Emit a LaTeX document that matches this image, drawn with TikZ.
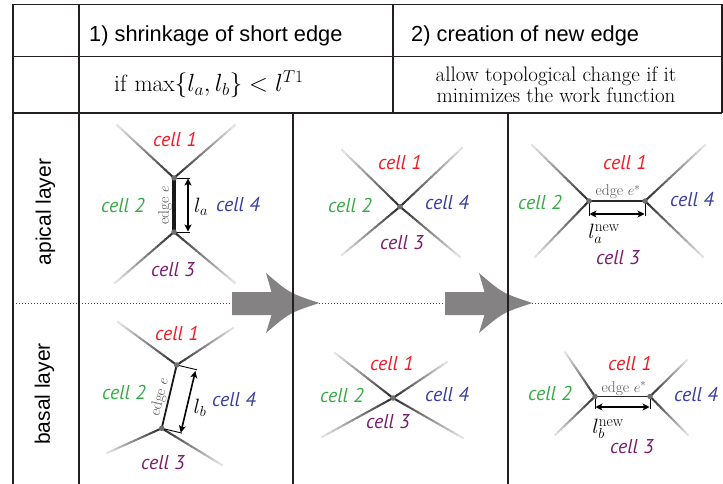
\documentclass[tikz,border=0pt]{standalone}
\usepackage{fontspec}
\newfontfamily\hdfont{Liberation Sans}
\newfontfamily\clfont{PT Sans}
\usetikzlibrary{calc,arrows.meta}
\definecolor{tblc}{HTML}{231F20}
\definecolor{cred}{HTML}{EE1C25}
\definecolor{cgreen}{HTML}{3AAA48}
\definecolor{cblue}{HTML}{3A3F9C}
\definecolor{cpurple}{HTML}{7B1E6E}
\definecolor{agray}{HTML}{858283}
\definecolor{vgray}{HTML}{6D6E70}
\definecolor{lblgray}{HTML}{555555}
\newcommand\fadeln[2]{%
  \foreach \i in {0,...,13}{%
    \pgfmathsetmacro\shd{82-5.4*\i}%
    \draw[line width=2pt,draw=black!\shd] ($(#1)!{\i/14}!(#2)$) -- ($(#1)!{(\i+1.15)/14}!(#2)$);
  }}
\tikzset{
  tbl/.style={line width=1.6pt, draw=tblc},
  dotl/.style={line width=0.9pt, draw=black!70, dash pattern=on 1.3pt off 1.7pt},
  hdr/.style={font=\hdfont\fontsize{21.8}{24}\selectfont, anchor=base west, inner sep=0},
  lay/.style={font=\hdfont\fontsize{21}{24}\selectfont, rotate=90, inner sep=0},
  rowtxt/.style={font=\fontsize{21}{21}\selectfont, inner sep=0},
  cl/.style={font=\clfont\itshape\fontsize{20}{22}\selectfont, inner sep=0},
  c1/.style={cl, text=cred},
  c2/.style={cl, text=cgreen},
  c3/.style={cl, text=cpurple},
  c4/.style={cl, text=cblue},
  vtx/.style={circle, fill=vgray, inner sep=0, minimum size=5.5pt},
  elbl/.style={font=\fontsize{15.5}{15.5}\selectfont, text=lblgray, inner sep=0},
  mlbl/.style={font=\fontsize{22}{22}\selectfont, inner sep=0},
  tick/.style={line width=0.9pt, draw=black},
  dimarr/.style={line width=1.6pt, draw=black, {Stealth[length=7pt,width=7pt,inset=1.8pt]}-{Stealth[length=7pt,width=7pt,inset=1.8pt]}},
  bigarr/.style={fill=agray, draw=none},
}
\begin{document}
\begin{tikzpicture}[x=1pt,y=-1pt]
\useasboundingbox (0,0) rectangle (723,484);
% dotted separator
\coordinate (dl) at (13,303);
\coordinate (dr) at (722,303);
\draw[dotl] (dl) -- (dr);
% big arrows
\foreach \dx in {0,213}{
\begin{scope}[xshift=\dx pt]
\fill[bigarr] (232,292) -- (271.5,292) -- (266,273) .. controls (289.6,293.2) .. (319.5,303)
  .. controls (289.6,312.8) .. (266,333) -- (271.5,315) -- (232,315) -- cycle;
\end{scope}}
% table
\draw[tbl] (13,4.5) -- (722,4.5);
\draw[tbl] (13,56.5) -- (722,56.5);
\draw[tbl] (13,113) -- (722,113);
\draw[tbl] (13,4.5) -- (13,484);
\draw[tbl] (79,4.5) -- (79,484);
\draw[tbl] (393,4.5) -- (393,113);
\draw[tbl] (722,4.5) -- (722,113);
\draw[tbl] (293,113) -- (293,484);
\draw[tbl] (508,113) -- (508,484);
% header texts
\node[hdr] (h1) at (89,41.5) {1) shrinkage of short edge};
\node[hdr] (h2) at (411,41.5) {2) creation of new edge};
\node[font=\fontsize{23.5}{24}\selectfont, inner sep=0, anchor=base west] (r1) at (114,92) {if\hspace{8pt}$\max\{l_a,l_b\}<l^{T1}$};
\node[rowtxt, align=center, anchor=base] (r2) at (556,102.5) {allow topological change if it\\minimizes the work function};
\node[lay] (la) at (45.5,212) {apical layer};
\node[lay] (lb) at (44.5,394) {basal layer};

% ---------- column 1, apical ----------
\coordinate (a1t) at (174,178);
\coordinate (a1b) at (174,232);
\coordinate (a1e1) at (117,125);
\coordinate (a1e2) at (235,125);
\coordinate (a1e3) at (115,283);
\coordinate (a1e4) at (235,283);
\fadeln{a1t}{a1e1}\fadeln{a1t}{a1e2}\fadeln{a1b}{a1e3}\fadeln{a1b}{a1e4}
\draw[line width=3.5pt, draw=black!90] (a1t) -- (a1b);
\coordinate (a1tt) at (189.5,178);
\coordinate (a1bt) at (189.5,232);
\draw[tick] (a1t) -- (a1tt);
\draw[tick] (a1b) -- (a1bt);
\coordinate (a1at) at (188,178.5);
\coordinate (a1ab) at (188,231.5);
\draw[dimarr] (a1at) -- (a1ab);
\node[vtx] (v1) at (a1t) {};
\node[vtx] (v2) at (a1b) {};
\node[elbl, rotate=90] (e1) at (165,205) {edge $e$};
\node[mlbl] (m1) at (201,207) {$l_a$};
\node[c1] at (175,140) {cell 1};
\node[c2] at (123,205) {cell 2};
\node[c4] at (238,205) {cell 4};
\node[c3] at (173,270) {cell 3};

% ---------- column 1, basal ----------
\coordinate (b1t) at (176.7,365);
\coordinate (b1b) at (161.7,428.3);
\coordinate (b1e1) at (118,322);
\coordinate (b1e2) at (233,328);
\coordinate (b1e3) at (107,453);
\coordinate (b1e4) at (222,465);
\fadeln{b1t}{b1e1}\fadeln{b1t}{b1e2}\fadeln{b1b}{b1e3}\fadeln{b1b}{b1e4}
\draw[line width=1.8pt, draw=black!90] (b1t) -- (b1b);
\coordinate (b1tt) at (197,369.8);
\coordinate (b1bt) at (182,433.1);
\draw[tick] (b1t) -- (b1tt);
\draw[tick] (b1b) -- (b1bt);
\coordinate (b1at) at (195.4,371);
\coordinate (b1ab) at (180.8,432.6);
\draw[dimarr] (b1at) -- (b1ab);
\node[vtx] (v3) at (b1t) {};
\node[vtx] (v4) at (b1b) {};
\node[elbl, rotate=76.7] (e2) at (160,397) {edge $e$};
\node[mlbl] (m2) at (200,408) {$l_b$};
\node[c1] at (177,333) {cell 1};
\node[c2] at (124,392) {cell 2};
\node[c4] at (234,400) {cell 4};
\node[c3] at (163,463) {cell 3};

% ---------- column 2, apical ----------
\coordinate (a2) at (400,206.7);
\coordinate (a2e1) at (342,150);
\coordinate (a2e2) at (462,148);
\coordinate (a2e3) at (342,255);
\coordinate (a2e4) at (460,257);
\fadeln{a2}{a2e1}\fadeln{a2}{a2e2}\fadeln{a2}{a2e3}\fadeln{a2}{a2e4}
\node[vtx] (v5) at (a2) {};
\node[c1] at (400,163) {cell 1};
\node[c2] at (350,205) {cell 2};
\node[c4] at (447,203) {cell 4};
\node[c3] at (402,243) {cell 3};

% ---------- column 2, basal ----------
\coordinate (b2) at (393,398);
\coordinate (b2e1) at (335,353);
\coordinate (b2e2) at (447,362);
\coordinate (b2e3) at (322,437);
\coordinate (b2e4) at (463,438);
\fadeln{b2}{b2e1}\fadeln{b2}{b2e2}\fadeln{b2}{b2e3}\fadeln{b2}{b2e4}
\node[vtx] (v6) at (b2) {};
\node[c1] at (392,363) {cell 1};
\node[c2] at (342,395) {cell 2};
\node[c4] at (447,395) {cell 4};
\node[c3] at (388,422) {cell 3};

% ---------- column 3, apical ----------
\coordinate (a3l) at (589,201);
\coordinate (a3r) at (645,201);
\coordinate (a3e1) at (532,145);
\coordinate (a3e2) at (535,257);
\coordinate (a3e3) at (705,145);
\coordinate (a3e4) at (703,257);
\fadeln{a3l}{a3e1}\fadeln{a3l}{a3e2}\fadeln{a3r}{a3e3}\fadeln{a3r}{a3e4}
\draw[line width=1.8pt, draw=black!85] (a3l) -- (a3r);
\coordinate (a3lt) at (589,215.5);
\coordinate (a3rt) at (645,215.5);
\draw[tick] (a3l) -- (a3lt);
\draw[tick] (a3r) -- (a3rt);
\coordinate (a3al) at (589.5,214);
\coordinate (a3ar) at (644.5,214);
\draw[dimarr] (a3al) -- (a3ar);
\node[vtx] (v7) at (a3l) {};
\node[vtx] (v8) at (a3r) {};
\node[elbl, anchor=base] (e3) at (618,196) {edge $e^{*}$};
\node[mlbl] (m3) at (604,234) {$l_a^{\mathrm{new}}$};
\node[c1] at (625,163) {cell 1};
\node[c2] at (540,202) {cell 2};
\node[c4] at (692,200) {cell 4};
\node[c3] at (618,258) {cell 3};

% ---------- column 3, basal ----------
\coordinate (b3l) at (595,396.5);
\coordinate (b3r) at (650,396.5);
\coordinate (b3e1) at (565,352);
\coordinate (b3e2) at (555,435);
\coordinate (b3e3) at (687,360);
\coordinate (b3e4) at (688,435);
\fadeln{b3l}{b3e1}\fadeln{b3l}{b3e2}\fadeln{b3r}{b3e3}\fadeln{b3r}{b3e4}
\draw[line width=1.8pt, draw=black!85] (b3l) -- (b3r);
\coordinate (b3lt) at (595,408.5);
\coordinate (b3rt) at (650,408.5);
\draw[tick] (b3l) -- (b3lt);
\draw[tick] (b3r) -- (b3rt);
\coordinate (b3al) at (595.5,407);
\coordinate (b3ar) at (649.5,407);
\draw[dimarr] (b3al) -- (b3ar);
\node[vtx] (v9) at (b3l) {};
\node[vtx] (v10) at (b3r) {};
\node[elbl, anchor=base] (e4) at (624,392) {edge $e^{*}$};
\node[mlbl] (m4) at (608,429) {$l_b^{\mathrm{new}}$};
\node[c1] at (630,363) {cell 1};
\node[c2] at (550,393) {cell 2};
\node[c4] at (696,395) {cell 4};
\node[c3] at (632,447) {cell 3};
\end{tikzpicture}
\end{document}
